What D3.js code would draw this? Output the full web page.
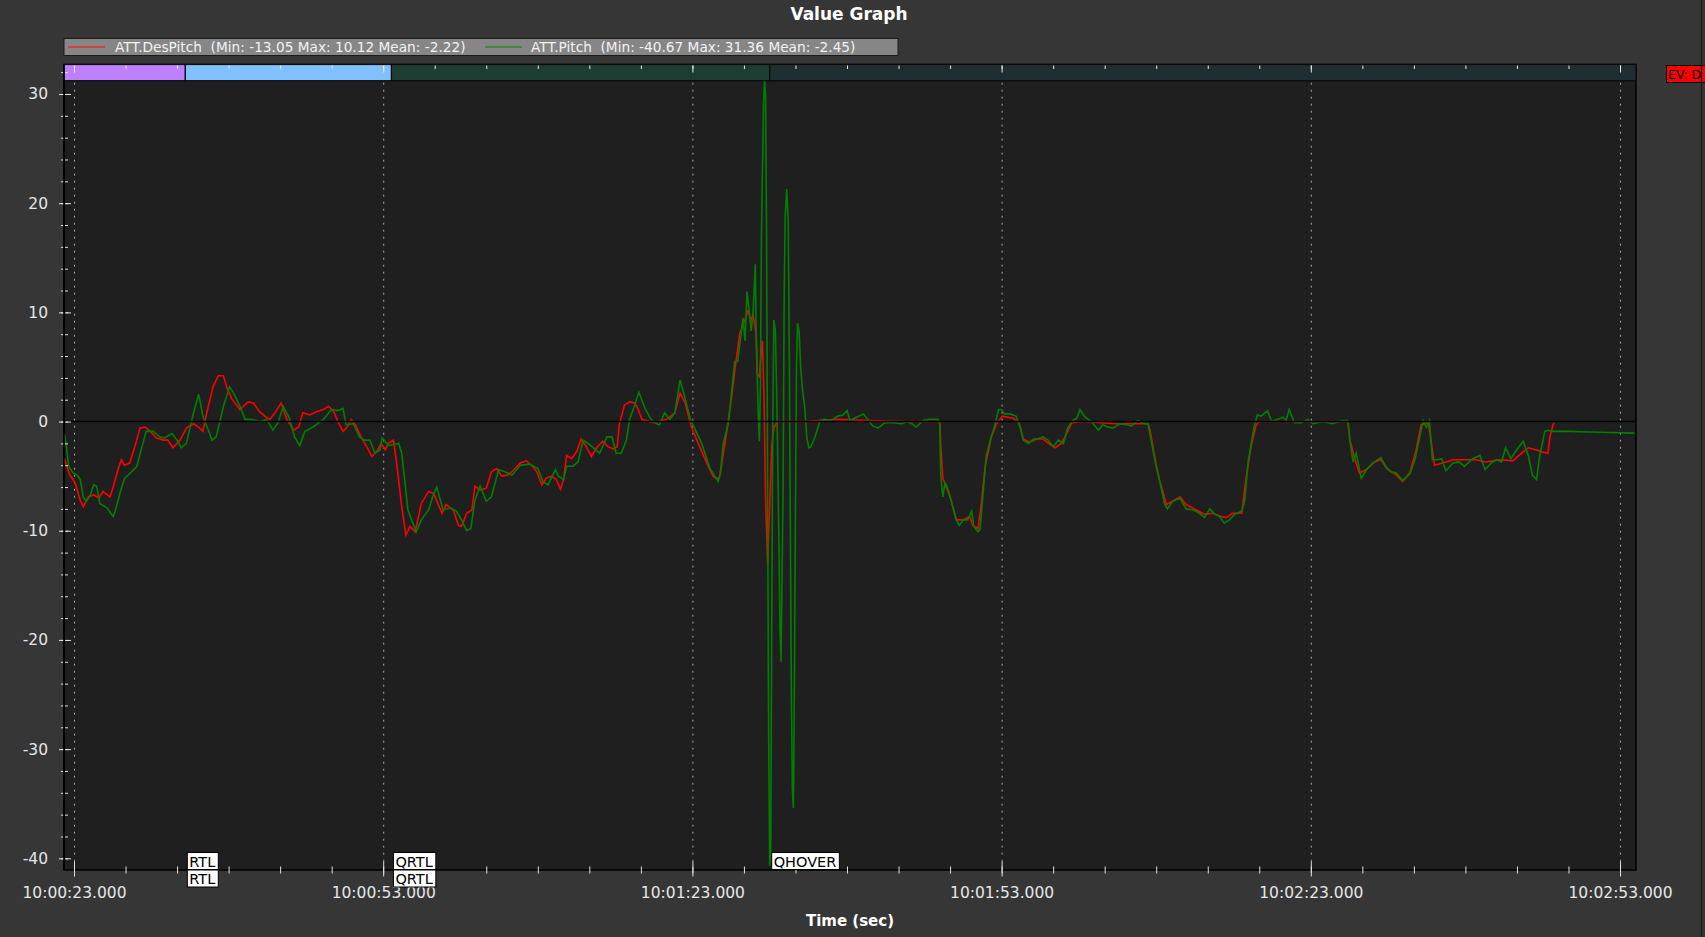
<!DOCTYPE html>
<meta charset="utf-8">
<title>Value Graph</title>
<script src="https://d3js.org/d3.v7.min.js"></script>
<style>
    body { margin: 0; background: #363636; overflow: hidden; }
    text { font-family: "DejaVu Sans", sans-serif; white-space: pre; }
</style>
<body>
<script>

    // ---- Data (seconds after 10:00:00, degrees) ----
    const desPitch = [
        [22.1,-3.4],[22.3,-4.1],[22.6,-4.9],[23.1,-5.6],[23.6,-7.2],[23.9,-7.8],[24.4,-6.9],[24.9,-6.7],[25.4,-7.0],[25.8,-6.4],
        [26.5,-6.9],[26.8,-6.0],[27.3,-4.3],[27.6,-3.5],[27.9,-4.0],[28.4,-3.8],[28.9,-2.3],[29.4,-0.6],[29.9,-0.5],[30.4,-0.9],
        [31.0,-1.5],[31.7,-1.7],[32.1,-1.7],[32.6,-2.4],[33.3,-1.7],[33.9,-0.6],[34.6,-0.2],[35.2,-0.6],[35.5,-0.9],[35.9,0.9],
        [36.5,3.2],[37.0,4.2],[37.5,4.2],[37.8,3.2],[38.3,2.1],[39.1,1.1],[39.9,1.8],[40.4,1.7],[41.0,0.9],[41.5,0.5],
        [42.0,0.2],[42.5,0.8],[43.1,1.7],[43.6,0.3],[44.3,-0.8],[44.8,-0.5],[45.2,0.8],[45.9,0.6],[46.5,0.9],[47.2,1.1],
        [47.7,1.4],[48.2,0.9],[48.6,0.0],[49.1,-0.9],[49.5,-0.5],[49.9,0.2],[50.3,-0.3],[50.9,-1.5],[51.4,-2.3],[51.9,-3.2],
        [52.4,-2.7],[52.8,-2.0],[53.2,-2.6],[53.5,-2.0],[54.0,-1.7],[54.3,-3.8],[54.8,-7.8],[55.2,-10.4],[55.6,-9.6],[56.1,-10.1],
        [56.7,-7.5],[57.4,-6.4],[57.9,-6.6],[58.7,-8.4],[59.1,-7.6],[59.8,-8.1],[60.3,-9.5],[60.6,-9.6],[61.1,-8.4],[61.6,-8.1],
        [61.9,-5.9],[62.4,-6.3],[63.0,-6.1],[63.5,-4.6],[64.0,-4.3],[64.5,-5.0],[65.1,-4.9],[65.8,-4.3],[66.3,-3.8],[66.9,-3.6],
        [67.4,-4.0],[67.9,-4.6],[68.4,-5.8],[68.8,-5.2],[69.3,-5.0],[69.8,-5.3],[70.2,-6.2],[70.5,-5.3],[70.8,-3.1],[71.3,-3.4],
        [71.8,-2.7],[72.2,-1.6],[72.7,-2.3],[73.2,-3.2],[73.7,-2.4],[74.3,-1.8],[74.8,-2.3],[75.3,-2.5],[75.7,-2.3],[75.9,-0.3],
        [76.4,1.5],[76.9,1.8],[77.4,1.7],[77.7,1.2],[78.1,0.2],[79.2,-0.1],[80.5,0.2],[81.3,0.8],[81.8,2.6],[82.3,1.7],
        [82.9,-0.5],[83.7,-2.3],[84.4,-3.8],[85.0,-5.0],[85.5,-5.3],[85.7,-4.8],[86.0,-2.9],[86.3,-1.1],[86.8,2.2],[87.1,4.6],
        [87.6,8.1],[87.9,8.8],[88.4,10.12],[88.7,9.3],[88.9,9.7],[89.2,7.9],[89.3,4.3],[89.5,4.1],[89.6,5.5],[89.8,7.4],
        [89.96,1.7],[90.1,-7.2],[90.3,-13.05],[90.35,-11.4],[90.5,-7.7],[90.7,-2.2],[90.9,-0.6],[91.2,0],[94.0,0],[97.0,0.2],
        [100.0,0.1],[104.0,0],[107.0,0],[107.1,-2.3],[107.3,-5.2],[108.0,-6.9],[108.6,-9.0],[109.3,-9.0],[109.9,-8.7],[110.2,-9.5],
        [110.7,-9.8],[111.0,-7.8],[111.4,-4.1],[112.0,-1.4],[112.5,-0.2],[113.1,0.5],[114.1,0.3],[114.7,-0.1],[115.1,-1.6],[115.7,-1.9],
        [116.4,-1.6],[117.0,-1.6],[117.7,-2.1],[118.2,-2.4],[118.8,-2.0],[119.3,-1.1],[119.8,-0.1],[121.0,0],[124.0,-0.2],[127.2,-0.2],
        [127.4,-0.8],[127.9,-3.5],[128.3,-5.3],[129.0,-7.6],[129.6,-7.3],[130.3,-6.9],[130.9,-7.6],[131.9,-8.1],[132.7,-8.5],[133.5,-8.4],
        [134.3,-8.7],[134.8,-8.8],[135.4,-8.4],[136.3,-8.4],[136.7,-5.3],[137.2,-2.3],[137.7,-0.3],[138.0,0.0],[142.0,0],[146.6,0],
        [146.8,-1.7],[147.2,-3.2],[147.7,-4.7],[148.4,-4.4],[149.2,-3.7],[149.8,-3.5],[150.5,-4.4],[151.3,-4.9],[151.9,-5.5],[152.6,-4.7],
        [153.2,-2.7],[153.7,-0.3],[154.4,-0.1],[154.7,-2.0],[155.0,-4.0],[155.8,-3.8],[156.8,-3.5],[158.1,-3.5],[159.0,-3.5],[160.0,-3.7],
        [161.3,-3.5],[162.6,-3.6],[163.2,-3.1],[164.1,-2.4],[164.9,-2.6],[165.5,-2.8],[166.0,-2.9],[166.2,-1.4],[166.5,-0.3],[166.6,-0.1]
    ];

    const pitch = [
        [22.1,-1.2],[22.5,-4.1],[22.9,-4.7],[23.3,-4.9],[23.6,-5.3],[23.9,-6.9],[24.2,-7.3],[24.6,-6.7],[24.9,-5.8],[25.2,-5.9],
        [25.5,-7.5],[26.2,-7.9],[26.8,-8.7],[27.0,-8.2],[27.5,-6.4],[27.9,-5.2],[28.6,-4.6],[29.1,-4.1],[29.6,-2.3],[30.0,-0.9],
        [30.7,-0.9],[31.3,-1.4],[31.8,-1.5],[32.5,-1.1],[33.0,-1.7],[33.4,-2.4],[33.9,-2.0],[34.6,0.8],[35.1,2.5],[35.5,0.5],
        [36.4,-1.7],[36.8,-1.4],[37.5,1.4],[38.1,3.2],[38.6,2.4],[39.1,1.4],[39.6,0.2],[40.2,0.2],[41.0,0.0],[41.7,0.2],
        [42.3,-0.8],[42.8,-0.1],[43.3,1.4],[43.9,0.3],[44.4,-1.4],[44.9,-2.2],[45.4,-0.9],[46.2,-0.5],[47.2,0.2],[48.0,1.1],
        [48.6,1.0],[49.1,1.2],[49.4,-0.3],[50.1,-0.2],[50.7,-1.4],[51.2,-1.7],[51.7,-1.7],[52.2,-2.9],[52.7,-2.6],[52.9,-1.5],
        [53.5,-2.2],[54.0,-2.1],[54.5,-2.0],[54.8,-2.9],[55.4,-8.1],[56.2,-10.1],[56.7,-9.0],[57.4,-8.1],[57.9,-6.6],[58.2,-6.0],
        [58.8,-8.1],[59.5,-7.9],[60.1,-8.2],[60.6,-9.0],[61.1,-10.0],[61.5,-9.8],[61.9,-7.2],[62.4,-5.9],[63.0,-7.3],[63.5,-6.9],
        [64.2,-4.4],[64.8,-4.6],[65.5,-4.9],[66.3,-4.0],[67.2,-3.9],[68.0,-4.3],[68.5,-5.5],[69.0,-5.8],[69.7,-4.4],[70.0,-5.0],
        [70.5,-5.3],[70.8,-4.1],[71.4,-4.1],[71.9,-3.7],[72.4,-1.7],[73.0,-2.1],[74.0,-2.9],[74.7,-1.4],[75.2,-1.4],[75.6,-2.9],
        [76.1,-2.9],[76.6,-1.7],[76.9,0.2],[77.4,1.5],[77.8,2.7],[78.4,1.2],[79.0,0.2],[79.5,-0.2],[79.8,-0.3],[80.3,0.8],
        [80.8,0.2],[81.3,0.8],[81.8,3.8],[82.3,2.1],[82.8,0.2],[83.9,-2.0],[84.7,-4.3],[85.5,-5.5],[85.7,-4.8],[86.0,-2.0],
        [86.5,-0.1],[86.8,2.7],[87.1,5.5],[87.4,5.5],[87.7,7.9],[87.9,9.5],[88.1,7.4],[88.3,11.9],[88.5,10.2],[88.7,8.3],
        [88.9,10.2],[89.1,14.4],[89.2,7.2],[89.4,0.3],[89.5,-1.8],[89.6,3.6],[89.7,17.3],[89.9,29.0],[90.0,31.36],[90.1,29.9],
        [90.2,16.3],[90.3,-7.2],[90.4,-28.8],[90.5,-40.67],[90.6,-39.1],[90.7,-18.0],[90.8,-0.1],[90.9,9.3],[91.05,8.3],[91.2,1.3],
        [91.35,-8.1],[91.5,-18.9],[91.6,-22.0],[91.7,-14.2],[91.8,-5.8],[91.9,10.7],[92.0,18.7],[92.15,21.3],[92.3,18.2],[92.4,6.4],
        [92.5,-9.5],[92.6,-24.6],[92.7,-33.7],[92.8,-35.4],[92.9,-23.6],[93.0,-7.6],[93.1,5.0],[93.2,9.0],[93.35,8.3],[93.5,5.0],
        [93.7,2.7],[93.9,1.3],[94.1,-1.5],[94.3,-2.4],[94.5,-2.3],[94.9,-1.4],[95.4,0.1],[95.8,0.2],[96.5,0.1],[97.1,0.5],
        [97.6,0.6],[98.0,1.0],[98.3,0.1],[98.9,0.4],[99.6,0.7],[100.0,0.2],[100.5,-0.4],[101.0,-0.6],[101.7,-0.1],[102.5,-0.1],
        [103.3,-0.2],[103.8,0.0],[104.3,-0.2],[104.7,-0.5],[105.4,0.1],[106.0,0.2],[106.8,0.2],[107.0,-0.3],[107.1,-5.0],[107.3,-6.9],
        [107.5,-5.6],[107.7,-5.9],[108.1,-7.2],[108.6,-9.0],[108.9,-9.5],[109.3,-9.0],[109.7,-9.0],[110.1,-8.2],[110.3,-9.6],[110.7,-10.1],
        [110.9,-9.9],[111.2,-6.6],[111.5,-3.2],[112.0,-1.4],[112.3,-0.5],[112.7,1.1],[113.0,1.1],[113.3,0.7],[113.8,0.7],[114.4,0.5],
        [114.8,-0.5],[115.1,-1.7],[115.6,-2.0],[116.1,-1.6],[116.5,-1.6],[117.0,-1.4],[117.5,-1.7],[118.0,-2.3],[118.5,-1.7],[119.0,-2.0],
        [119.4,-0.6],[119.9,0.1],[120.3,0.3],[120.6,1.1],[121.1,0.4],[121.7,0.0],[122.4,-0.8],[122.8,-0.3],[123.3,-0.5],[123.8,-0.6],
        [124.5,-0.2],[125.1,-0.3],[125.6,-0.4],[126.2,0.1],[126.9,-0.2],[127.2,-0.2],[127.4,-1.2],[127.9,-3.7],[128.3,-5.3],[128.8,-7.5],
        [129.1,-8.0],[129.6,-7.3],[130.3,-7.0],[130.9,-8.0],[131.6,-8.1],[132.2,-8.4],[132.7,-8.8],[133.2,-8.0],[133.7,-8.5],[134.15,-8.7],
        [134.6,-9.3],[135.1,-9.0],[135.6,-8.5],[136.3,-8.2],[136.6,-7.2],[136.9,-3.8],[137.2,-2.1],[137.5,-0.5],[137.8,0.6],[138.2,0.5],
        [138.8,1.0],[139.2,0.0],[139.8,0.2],[140.3,0.4],[140.6,0.1],[140.9,1.1],[141.4,-0.1],[142.1,-0.1],[142.7,0.2],[143.2,-0.2],
        [144.2,0.0],[145.1,-0.2],[146.1,0.1],[146.6,0.1],[146.8,-1.8],[147.1,-3.7],[147.4,-2.9],[147.9,-5.2],[148.4,-4.4],[149.0,-3.8],
        [149.8,-3.3],[150.3,-4.2],[150.8,-4.6],[151.3,-4.7],[151.9,-5.4],[152.6,-4.8],[153.1,-3.5],[153.5,-1.7],[153.9,0.1],[154.2,-0.5],
        [154.5,0.1],[154.8,-3.5],[155.3,-3.5],[155.7,-3.4],[156.1,-4.5],[156.8,-3.8],[157.4,-3.7],[157.9,-4.1],[158.7,-3.4],[159.4,-3.1],
        [159.9,-4.4],[160.5,-3.8],[161.0,-3.5],[161.5,-3.7],[161.9,-2.4],[162.4,-3.4],[162.9,-2.7],[163.6,-1.8],[164.1,-3.1],[164.5,-4.9],
        [164.9,-5.3],[165.2,-3.2],[165.7,-0.9],[166.0,-0.8],[166.5,-0.9],[168.0,-0.9],[170.0,-0.95],[172.0,-1.0],[174.4,-1.06]
    ];

    // flight modes: start second, name, band colour
    const modeStarts = [22.03, 33.8, 53.8, 90.5];
    const modeNames  = ["", "RTL", "QRTL", "QHOVER"];
    const modeColors = ["#bf80ff", "#80c0ff", "#1e3d32", "#1f2e31"];
    const modeLabelRows = [0, 2, 2, 1];   // how many label boxes each change shows

    const xTickSecs   = [23, 53, 83, 113, 143, 173];
    const xTickLabels = ["10:00:23.000", "10:00:53.000", "10:01:23.000", "10:01:53.000", "10:02:23.000", "10:02:53.000"];
    const yTicks      = [-40, -30, -20, -10, 0, 10, 20, 30];

    const legendLabels = [
        "ATT.DesPitch  (Min: -13.05 Max: 10.12 Mean: -2.22)",
        "ATT.Pitch  (Min: -40.67 Max: 31.36 Mean: -2.45)"
    ];

    // ---- Layout ----
    const width  = 1705;
    const height = 937;
    const plot = { left: 64, right: 1636, top: 64.5, bottom: 870, bandBottom: 80.7 };

    const base = new Date(2024, 0, 1, 10, 0, 0);
    const toDate = s => new Date(base.getTime() + s * 1000);

    const xScale = d3.scaleTime()
                     .domain([toDate(22.03), toDate(174.55)])
                     .range([plot.left, plot.right]);

    const yScale = d3.scaleLinear()
                     .domain([-41.07, 32.7])
                     .range([plot.bottom, plot.top]);

    const svg = d3.select("body")
                  .append("svg")
                  .attr("width", width)
                  .attr("height", height);

    svg.append("rect")
        .attr("width", width).attr("height", height)
        .attr("fill", "#363636");

    // title
    svg.append("text")
        .attr("x", 849).attr("y", 20)
        .attr("text-anchor", "middle")
        .attr("font-size", 17).attr("font-weight", "bold")
        .attr("fill", "#ffffff")
        .text("Value Graph");

    // legend box
    const legend = svg.append("g");
    legend.append("rect")
        .attr("x", 64).attr("y", 38.5).attr("width", 834).attr("height", 17)
        .attr("fill", "#868686").attr("stroke", "#1a1a1a");
    const legendX = [[68, 115], [485, 531]];
    const legendColors = ["#e03030", "#2a8a2a"];
    legendLabels.forEach((lab, i) => {
        legend.append("line")
            .attr("x1", legendX[i][0]).attr("x2", legendX[i][0] + 37)
            .attr("y1", 47).attr("y2", 47)
            .attr("stroke", legendColors[i]).attr("stroke-width", 1.5);
        legend.append("text")
            .attr("x", legendX[i][1]).attr("y", 52)
            .attr("font-size", 13.7)
            .attr("fill", "#f2f2f2")
            .text(lab);
    });

    // plot background
    svg.append("rect")
        .attr("x", plot.left).attr("y", plot.top)
        .attr("width", plot.right - plot.left).attr("height", plot.bottom - plot.top)
        .attr("fill", "#1f1f1f").attr("stroke", "#000").attr("stroke-width", 1.5);

    // dotted vertical grid at the major ticks
    svg.append("g")
        .selectAll("line")
        .data(xTickSecs)
        .enter()
        .append("line")
        .attr("x1", d => xScale(toDate(d)) + 0.5)
        .attr("x2", d => xScale(toDate(d)) + 0.5)
        .attr("y1", plot.bandBottom + 2)
        .attr("y2", plot.bottom - 8)
        .attr("stroke", "#a8a8a8")
        .attr("stroke-dasharray", "2,5");

    // series
    svg.append("clipPath").attr("id", "clip")
        .append("rect")
        .attr("x", plot.left).attr("y", plot.top)
        .attr("width", plot.right - plot.left).attr("height", plot.bottom - plot.top);

    const line = d3.line()
                   .x(d => xScale(toDate(d[0])))
                   .y(d => yScale(d[1]));

    const series = svg.append("g").attr("clip-path", "url(#clip)");
    series.append("path")
        .datum(desPitch)
        .attr("d", line)
        .attr("fill", "none").attr("stroke", "#ff0000").attr("stroke-width", 1.6);
    series.append("path")
        .datum(pitch)
        .attr("d", line)
        .attr("fill", "none").attr("stroke", "#008000").attr("stroke-width", 1.6);

    // zero line
    svg.append("line")
        .attr("x1", plot.left).attr("x2", plot.right)
        .attr("y1", yScale(0)).attr("y2", yScale(0))
        .attr("stroke", "#000").attr("stroke-width", 1.5);

    // mode band
    const modeEnds = modeStarts.slice(1).concat([174.55]);
    svg.append("g")
        .selectAll("rect")
        .data(modeStarts)
        .enter()
        .append("rect")
        .attr("x", d => xScale(toDate(d)))
        .attr("y", plot.top)
        .attr("width", (d, i) => xScale(toDate(modeEnds[i])) - xScale(toDate(d)))
        .attr("height", plot.bandBottom - plot.top)
        .attr("fill", (d, i) => modeColors[i])
        .attr("stroke", "#0a0a0a").attr("stroke-width", 1.2);

    // ticks inside the band
    const minorSecs = d3.range(23, 175, 5);
    svg.append("g")
        .attr("transform", "translate(0," + (plot.top + 1) + ")")
        .call(d3.axisBottom(xScale).tickValues(minorSecs.map(toDate)).tickSize(3.5).tickFormat(""))
        .call(g => g.select(".domain").remove())
        .call(g => g.selectAll("line").attr("stroke", "#e8e8e8"));
    svg.append("g")
        .attr("transform", "translate(0," + (plot.top + 1) + ")")
        .call(d3.axisBottom(xScale).tickValues(xTickSecs.map(toDate)).tickSize(7).tickFormat(""))
        .call(g => g.select(".domain").remove())
        .call(g => g.selectAll("line").attr("stroke", "#e8e8e8"));

    // x axis (bottom)
    svg.append("g")
        .attr("transform", "translate(0," + (plot.bottom - 3.5) + ")")
        .call(d3.axisBottom(xScale).tickValues(minorSecs.map(toDate)).tickSize(7).tickFormat(""))
        .call(g => g.select(".domain").remove())
        .call(g => g.selectAll("line").attr("stroke", "#e0e0e0"));
    svg.append("g")
        .attr("id", "xAxis")
        .attr("transform", "translate(0," + (plot.bottom - 8.5) + ")")
        .call(d3.axisBottom(xScale)
                .tickValues(xTickSecs.map(toDate))
                .tickSize(15)
                .tickPadding(10.5)
                .tickFormat((d, i) => xTickLabels[i]))
        .call(g => g.select(".domain").remove())
        .call(g => g.selectAll("line").attr("stroke", "#e0e0e0"))
        .call(g => g.selectAll("text")
                    .attr("fill", "#e6e6e6")
                    .attr("font-size", 15.5)
                    .attr("font-family", "DejaVu Sans, sans-serif"));

    // y axis (left)
    svg.append("g")
        .attr("transform", "translate(" + (plot.left + 4) + ",0)")
        .call(d3.axisLeft(yScale).tickValues(d3.range(-40, 33, 2)).tickSize(7).tickFormat(""))
        .call(g => g.select(".domain").remove())
        .call(g => g.selectAll("line").attr("stroke", "#e0e0e0").attr("stroke-dasharray", "3,1.5"));
    svg.append("g")
        .attr("id", "yAxis")
        .attr("transform", "translate(" + (plot.left + 7) + ",0)")
        .call(d3.axisLeft(yScale).tickValues(yTicks).tickSize(13).tickPadding(10).tickFormat(d => String(d)))
        .call(g => g.select(".domain").remove())
        .call(g => g.selectAll("line").attr("stroke", "#e8e8e8").attr("stroke-dasharray", "5,2"))
        .call(g => g.selectAll("text")
                    .attr("fill", "#e6e6e6")
                    .attr("font-size", 15.5)
                    .attr("font-family", "DejaVu Sans, sans-serif"));

    // axis line on the left side of the plot
    svg.append("line")
        .attr("x1", plot.left).attr("x2", plot.left)
        .attr("y1", plot.top).attr("y2", plot.bottom)
        .attr("stroke", "#000").attr("stroke-width", 1.5);

    // x axis title
    svg.append("text")
        .attr("x", 850).attr("y", 926)
        .attr("text-anchor", "middle")
        .attr("font-size", 15).attr("font-weight", "bold")
        .attr("fill", "#ffffff")
        .text("Time (sec)");

    // mode change labels on the bottom edge
    const modeLabels = svg.append("g");
    modeStarts.forEach((s, i) => {
        for (let r = 0; r < modeLabelRows[i]; r++) {
            const x0 = xScale(toDate(s)) + 2;
            const y0 = r === 0 ? plot.bottom - 17.5 : plot.bottom;
            const t = modeLabels.append("text")
                .attr("x", x0 + 2).attr("y", y0 + 14)
                .attr("font-size", 14.5)
                .attr("fill", "#000")
                .text(modeNames[i]);
            const w = t.node().getComputedTextLength();
            modeLabels.insert("rect", "text")
                .attr("x", x0).attr("y", y0)
                .attr("width", w + 5).attr("height", 17)
                .attr("fill", "#ffffff").attr("stroke", "#000").attr("stroke-width", 1);
        }
    });

    // event marker at the right edge
    svg.append("rect")
        .attr("x", 1666.5).attr("y", 65.5).attr("width", 45).attr("height", 17)
        .attr("fill", "#ff0000").attr("stroke", "#000");
    svg.append("text")
        .attr("x", 1668).attr("y", 79)
        .attr("font-size", 12.5)
        .attr("fill", "#000")
        .text("EV: D");

    // window edge
    svg.append("line")
        .attr("x1", 1701.5).attr("x2", 1701.5)
        .attr("y1", 0).attr("y2", height)
        .attr("stroke", "#1c1c1c").attr("stroke-width", 1.5);

</script>
